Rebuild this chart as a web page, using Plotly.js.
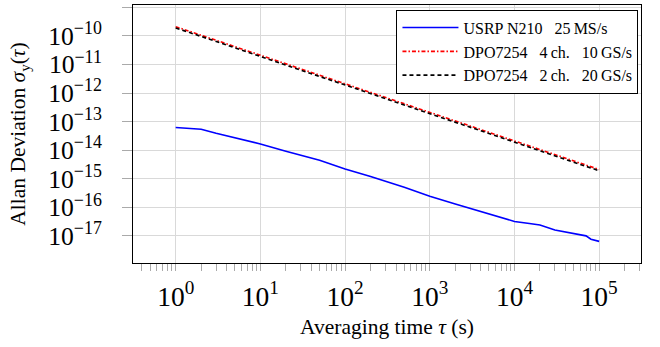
<!DOCTYPE html>
<html>
<head>
<meta charset="utf-8">
<script src="https://cdn.plot.ly/plotly-3.0.1.min.js"></script>
<style>html,body{margin:0;padding:0;background:#fff;}#chart{width:660px;height:347px;}</style>
</head>
<body>
<div id="chart"></div>
<script>
const usrpTau = [1, 2, 3, 5, 10, 20, 50, 100, 200, 500, 1000, 2000, 5000, 10000, 15000, 20000, 30000, 50000, 70000, 80000, 100000];
const usrpAdev = [6.2e-14, 5.4e-14, 3.9e-14, 2.7e-14, 1.65e-14, 9.1e-15, 4.4e-15, 2.2e-15, 1.2e-15, 5.0e-16, 2.45e-16, 1.3e-16, 6.0e-17, 3.2e-17, 2.7e-17, 2.4e-17, 1.6e-17, 1.2e-17, 1.0e-17, 7.6e-18, 6.4e-18];
const dpo4Tau = [1, 10, 100, 1000, 10000, 100000];
const dpo4Adev = [2.1e-10, 2.1e-11, 2.1e-12, 2.1e-13, 2.1e-14, 2.1e-15];
const dpo2Tau = [1, 10, 100, 1000, 10000, 100000];
const dpo2Adev = [1.9e-10, 1.9e-11, 1.9e-12, 1.9e-13, 1.9e-14, 1.9e-15];
const seriesNames = ['USRP N210\u2002 25\u2009MS/s', 'DPO7254\u2002 4\u2009ch.\u2002 10\u2009GS/s', 'DPO7254\u2002 2\u2009ch.\u2002 20\u2009GS/s'];
const xTickAlias = {'1': '10<sup>0</sup>', '10': '10<sup>1</sup>'};

const fam = '"Liberation Serif", "Times New Roman", serif';
const traces = [
  {x: usrpTau, y: usrpAdev, name: seriesNames[0], mode: 'lines', line: {color: '#0000ff', width: 1.6}},
  {x: dpo4Tau, y: dpo4Adev, name: seriesNames[1], mode: 'lines', line: {color: '#ff0000', width: 1.6, dash: '4px,2px,1.5px,2px'}},
  {x: dpo2Tau, y: dpo2Adev, name: seriesNames[2], mode: 'lines', line: {color: '#000000', width: 1.6, dash: '4px,3px'}}
];
const layout = {
  width: 660, height: 347,
  margin: {l: 133, r: 19, t: 5, b: 84},
  paper_bgcolor: '#fff', plot_bgcolor: '#fff',
  font: {family: fam, size: 18, color: '#000'},
  showlegend: true,
  legend: {x: 0.995, xanchor: 'right', y: 0.982, yanchor: 'top', bordercolor: '#000', borderwidth: 1, bgcolor: '#fff',
           font: {family: fam, size: 16, color: '#000'}, tracegroupgap: 0, itemwidth: 56},
  xaxis: {
    type: 'log', range: [-0.504, 5.494], dtick: 1, exponentformat: 'power', labelalias: xTickAlias,
    showline: true, mirror: true, linecolor: '#000', linewidth: 1,
    showgrid: true, gridcolor: '#d9d9d9', gridwidth: 1,
    ticks: 'outside', ticklen: 7, tickcolor: '#aaa', tickwidth: 1, ticklabelstandoff: 3,
    minor: {ticks: 'outside', ticklen: 7, tickcolor: '#aaa', showgrid: false, dtick: 'D1'},
    tickfont: {family: fam, size: 22, color: '#000'},
    zeroline: false,
    title: {text: 'Averaging time <i>τ</i> (s)', font: {family: fam, size: 21.5, color: '#000'}, standoff: 8}
  },
  yaxis: {
    type: 'log', range: [-17.95, -8.92], dtick: 1, exponentformat: 'power',
    showline: true, mirror: true, linecolor: '#000', linewidth: 1,
    showgrid: true, gridcolor: '#d9d9d9', gridwidth: 1,
    ticks: 'outside', ticklen: 10, tickcolor: '#aaa', tickwidth: 1, ticklabelstandoff: 16,
    tickfont: {family: fam, size: 20.5, color: '#000'},
    zeroline: false,
    title: {text: 'Allan Deviation <i>σ</i><sub>y</sub>(<i>τ</i>)', font: {family: fam, size: 21.5, color: '#000'}, standoff: 16}
  }
};
Plotly.newPlot('chart', traces, layout, {displayModeBar: false, staticPlot: true});
</script>
</body>
</html>
